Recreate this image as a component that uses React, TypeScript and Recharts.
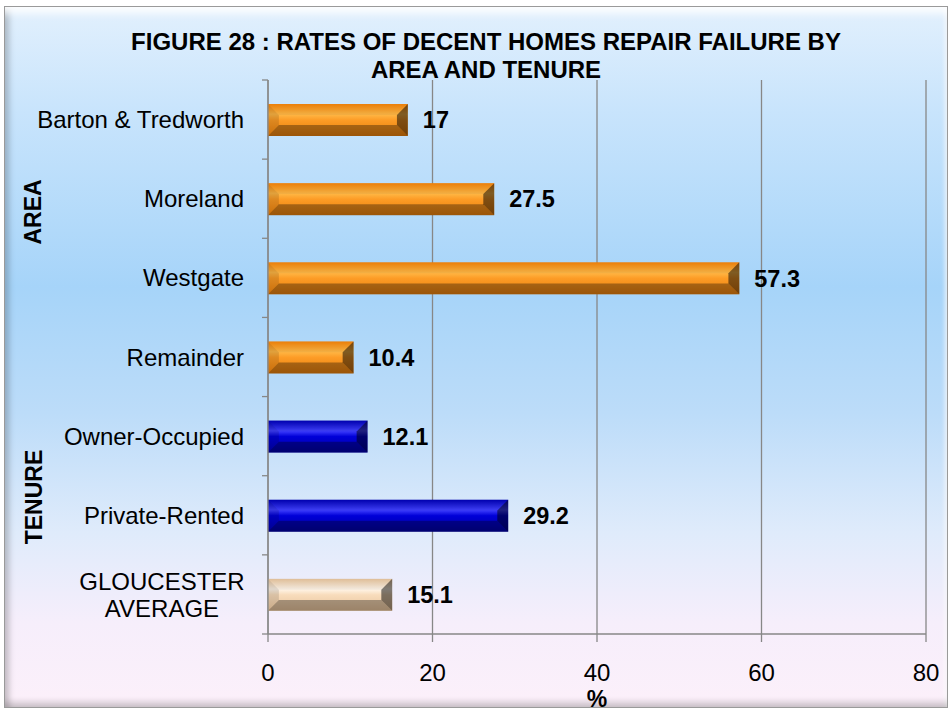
import React from 'react';
import { BarChart, Bar, XAxis, YAxis, CartesianGrid, LabelList } from 'recharts';

const categories = [
  'Barton & Tredworth',
  'Moreland',
  'Westgate',
  'Remainder',
  'Owner-Occupied',
  'Private-Rented',
  'GLOUCESTER AVERAGE',
];
const rates = [17, 27.5, 57.3, 10.4, 12.1, 29.2, 15.1];
const groups = ['area', 'area', 'area', 'area', 'tenure', 'tenure', 'average'];
const xTicks = [0, 20, 40, 60, 80];

const data = categories.map((name, i) => ({ name, value: rates[i], group: groups[i] }));

const W = 952;
const H = 711;
const PLOT_TOP = 80;
const PLOT_BOTTOM = 634;
const PLOT_LEFT = 268;
const PLOT_RIGHT = 926;
const BAND = (PLOT_BOTTOM - PLOT_TOP) / categories.length;
const AXIS_GREY = '#878787';
const FONT = 'Liberation Sans, Arial, sans-serif';

const palettes: Record<string, string[]> = {
  area: ['#f8860a', '#ffb846', '#fd9c26', '#e67e0c'],
  tenure: ['#0000b8', '#4040ff', '#0000d8', '#0000a4'],
  average: ['#ecc8a0', '#fff5e8', '#f8dcbc', '#e6c29a'],
};

function BevelBar(props: any) {
  const { x, y, width, height, payload } = props;
  if (!width || width <= 0) return null;
  const b = Math.min(height * 0.34, width / 2);
  const id = `face-${payload.group}`;
  return (
    <g>
      <rect x={x} y={y} width={width} height={height} fill={`url(#${id})`} />
      {/* top bevel */}
      <polygon
        points={`${x},${y} ${x + width},${y} ${x + width - b},${y + b} ${x + b},${y + b}`}
        fill="#000"
        fillOpacity={0.05}
      />
      {/* bottom bevel */}
      <polygon
        points={`${x},${y + height} ${x + b},${y + height - b} ${x + width - b},${y + height - b} ${x + width},${y + height}`}
        fill="#000"
        fillOpacity={0.32}
      />
      {/* left bevel */}
      <polygon
        points={`${x},${y} ${x + b},${y + b} ${x + b},${y + height - b} ${x},${y + height}`}
        fill="#000"
        fillOpacity={0.12}
      />
      {/* right bevel */}
      <polygon
        points={`${x + width - b},${y + b} ${x + width},${y} ${x + width},${y + height} ${x + width - b},${y + height - b}`}
        fill="#000"
        fillOpacity={0.5}
      />
    </g>
  );
}

function CategoryTick(props: any) {
  const { x, y, payload, index } = props;
  const label: string = payload.value;
  const tx = x - 24;
  const marks = (
    <>
      <line x1={x - 6} x2={x} y1={y - BAND / 2} y2={y - BAND / 2} stroke={AXIS_GREY} strokeWidth={1.3} />
      {index === categories.length - 1 && (
        <line x1={x - 6} x2={x} y1={y + BAND / 2} y2={y + BAND / 2} stroke={AXIS_GREY} strokeWidth={1.3} />
      )}
    </>
  );
  if (label === 'GLOUCESTER AVERAGE') {
    return (
      <g>
        {marks}
        <text x={tx - 82} y={y - 13} textAnchor="middle" dominantBaseline="central" fontSize={24} fontFamily={FONT} fill="#000">
          GLOUCESTER
        </text>
        <text x={tx - 82} y={y + 14} textAnchor="middle" dominantBaseline="central" fontSize={24} fontFamily={FONT} fill="#000">
          AVERAGE
        </text>
      </g>
    );
  }
  return (
    <g>
      {marks}
      <text x={tx} y={y} textAnchor="end" dominantBaseline="central" fontSize={24} fontFamily={FONT} fill="#000">
        {label}
      </text>
    </g>
  );
}

export default function App() {
  return (
    <div style={{ position: 'absolute', left: 0, top: 0, width: W, height: H, background: '#fff', fontFamily: FONT }}>
      <div
        style={{
          position: 'absolute',
          left: 4,
          top: 6,
          width: W - 8,
          height: H - 9,
          boxSizing: 'border-box',
          border: '1px solid #9a9a9a',
          background:
            'linear-gradient(to bottom, #e2f0fd 0%, #c8e4fc 15%, #a6d4f9 40%, #bcdcf9 58%, #dfebfb 75%, #f6eefb 88%, #fcf0fa 100%)',
          boxShadow:
            'inset 0 12px 8px -6px rgba(255,255,255,0.95), inset 7px 0 6px -3px rgba(0,0,0,0.22), inset 0 -8px 6px -3px rgba(0,0,0,0.18), inset -4px 0 4px -2px rgba(255,255,255,0.8)',
        }}
      />
      <div
        style={{
          position: 'absolute',
          left: 10,
          top: 28,
          width: W,
          textAlign: 'center',
          fontWeight: 'bold',
          fontSize: 24,
          lineHeight: '28px',
          color: '#000',
        }}
      >
        FIGURE 28 : RATES OF DECENT HOMES REPAIR FAILURE BY
        <br />
        AREA AND TENURE
      </div>
      <div
        style={{
          position: 'absolute',
          left: 33,
          top: 212,
          transform: 'translate(-50%, -50%) rotate(-90deg)',
          fontWeight: 'bold',
          fontSize: 23,
          whiteSpace: 'nowrap',
        }}
      >
        AREA
      </div>
      <div
        style={{
          position: 'absolute',
          left: 34,
          top: 497,
          transform: 'translate(-50%, -50%) rotate(-90deg)',
          fontWeight: 'bold',
          fontSize: 23,
          whiteSpace: 'nowrap',
        }}
      >
        TENURE
      </div>
      <div style={{ position: 'absolute', left: 0, top: 0 }}>
        <BarChart
          width={W}
          height={H}
          data={data}
          layout="vertical"
          barSize={32}
          margin={{ top: PLOT_TOP, right: W - PLOT_RIGHT, bottom: 0, left: 0 }}
        >
          <defs>
            {Object.entries(palettes).map(([key, c]) => (
              <linearGradient key={key} id={`face-${key}`} x1="0" y1="0" x2="0" y2="1">
                <stop offset="0%" stopColor={c[0]} />
                <stop offset="32%" stopColor={c[1]} />
                <stop offset="50%" stopColor={c[2]} />
                <stop offset="100%" stopColor={c[3]} />
              </linearGradient>
            ))}
          </defs>
          <CartesianGrid horizontal={false} stroke={AXIS_GREY} strokeWidth={1.3} />
          <XAxis
            type="number"
            domain={[0, 80]}
            ticks={xTicks}
            interval={0}
            height={H - PLOT_BOTTOM}
            tickSize={8}
            tickMargin={22}
            stroke={AXIS_GREY}
            strokeWidth={1.3}
            tick={{ fill: '#000', fontSize: 24, fontFamily: FONT }}
            label={{ value: '%', position: 'insideBottom', offset: 4, fill: '#000', fontSize: 23, fontWeight: 'bold', fontFamily: FONT }}
          />
          <YAxis
            type="category"
            dataKey="name"
            width={PLOT_LEFT}
            tickSize={0}
            tickMargin={0}
            tickLine={false}
            stroke={AXIS_GREY}
            strokeWidth={1.3}
            interval={0}
            tick={<CategoryTick />}
          />
          <Bar dataKey="value" isAnimationActive={false} shape={(p: any) => <BevelBar {...p} />}>
            <LabelList
              dataKey="value"
              position="right"
              offset={15}
              fill="#000"
              fontSize={23.5}
              fontWeight="bold"
              fontFamily={FONT}
            />
          </Bar>
        </BarChart>
      </div>
    </div>
  );
}
